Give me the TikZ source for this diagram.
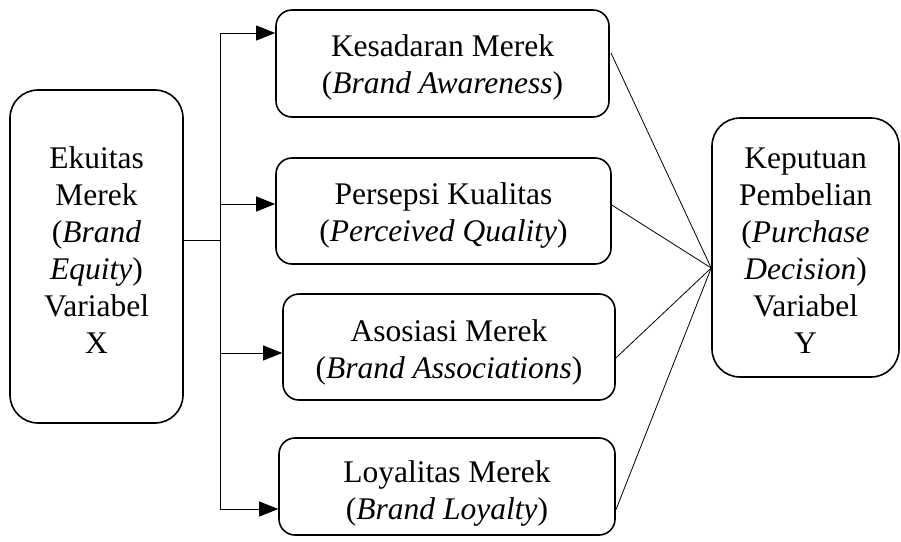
\documentclass[tikz,border=0pt]{standalone}
\usepackage{fontspec}
\setmainfont{Liberation Serif}
\usetikzlibrary{arrows.meta,calc}
\tikzset{
  box/.style={draw, line width=1.6pt, rounded corners=16pt, inner sep=0pt},
  bigbox/.style={draw, line width=1.6pt, rounded corners=28pt, inner sep=0pt},
  txt/.style={align=center, font=\fontsize{31.5}{37}\selectfont, inner sep=0pt},
  conn/.style={line width=0.8pt},
  arr/.style={line width=0.8pt, -{Triangle[length=19pt,width=15pt]}},
}
\begin{document}
\begin{tikzpicture}[x=1pt,y=1pt]
\useasboundingbox (0,0) rectangle (901,-541);
% boxes
\node[bigbox, minimum width=173pt, minimum height=333pt] (X) at (96.5,-256.5) {};
\node[txt] (Xt) at (96.5,-250) {Ekuitas\\Merek\\(\textit{Brand}\\\textit{Equity})\\Variabel\\X};
\node[box, minimum width=333pt, minimum height=107pt] (B1) at (442.5,-63.5) {};
\node[txt] (B1t) at ($(B1)+(0,-4)$) {Kesadaran Merek\\(\textit{Brand Awareness})};
\node[box, minimum width=335pt, minimum height=106pt] (B2) at (443.5,-211) {};
\node[txt] (B2t) at ($(B2)+(0,-4)$) {Persepsi Kualitas\\(\textit{Perceived Quality})};
\node[box, minimum width=332pt, minimum height=106pt] (B3) at (449,-347) {};
\node[txt] (B3t) at ($(B3)+(0,-5)$) {Asosiasi Merek\\(\textit{Brand Associations})};
\node[box, minimum width=336pt, minimum height=97pt] (B4) at (447,-486.5) {};
\node[txt] (B4t) at ($(B4)+(0,-7)$) {Loyalitas Merek\\(\textit{Brand Loyalty})};
\node[bigbox, minimum width=187pt, minimum height=259pt] (Y) at (805.5,-247.5) {};
\node[txt] (Yt) at ($(Y)+(0,-3)$) {Keputuan\\Pembelian\\(\textit{Purchase}\\\textit{Decision})\\Variabel\\Y};
% bus
\coordinate (j) at (220,-240);
\coordinate (t1) at (220,-33);
\coordinate (t2) at (220,-204);
\coordinate (t3) at (220,-353);
\coordinate (t4) at (220,-509);
\draw[conn] (X.east |- j) -- (j);
\draw[conn] (t1) -- (t4);
\draw[arr] (t1) -- (B1.west |- t1);
\draw[arr] (t2) -- (B2.west |- t2);
\draw[arr] (t3) -- (B3.west |- t3);
\draw[arr] (t4) -- (B4.west |- t4);
% convergence
\coordinate (c) at (Y.west |- 0,-268);
\coordinate (s1) at (611,-53);
\coordinate (s2) at (616,-205);
\coordinate (s3) at (616,-358);
\coordinate (s4) at (616,-510);
\draw[conn] (s1) -- (c);
\draw[conn] (B2.east |- s2) -- (c);
\draw[conn] (B3.east |- s3) -- (c);
\draw[conn] (B4.east |- s4) -- (c);
\end{tikzpicture}
\end{document}
